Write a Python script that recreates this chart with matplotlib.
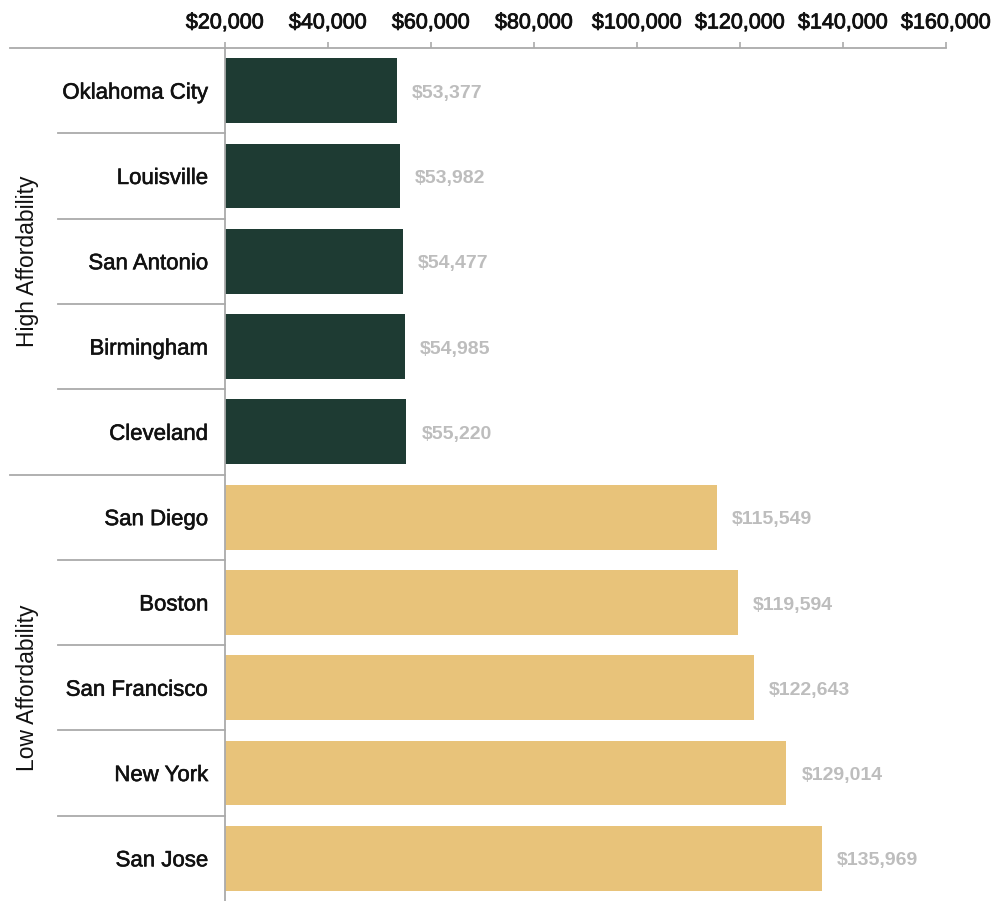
import matplotlib
matplotlib.use("Agg")
import matplotlib.pyplot as plt
import matplotlib.patheffects as pe
from matplotlib.transforms import blended_transform_factory

cities = ["Oklahoma City", "Louisville", "San Antonio", "Birmingham", "Cleveland",
          "San Diego", "Boston", "San Francisco", "New York", "San Jose"]
values = [53377, 53982, 54477, 54985, 55220, 115549, 119594, 122643, 129014, 135969]
groups = ["High Affordability", "Low Affordability"]
group_sizes = [5, 5]
group_colors = ["#1e3b33", "#e8c37a"]
xticks = [20000, 40000, 60000, 80000, 100000, 120000, 140000, 160000]

plt.rcParams['font.family'] = ['Liberation Sans', 'DejaVu Sans']

fig = plt.figure(figsize=(9.95, 9.01), dpi=100)
ax = fig.add_axes([225/995, 0, 721/995, 1 - 48/901])

colors = []
for c, n in zip(group_colors, group_sizes):
    colors += [c] * n

ypos = list(range(len(cities)))
ax.barh(ypos, [v - 20000 for v in values], left=20000, height=0.76, color=colors)
ax.set_xlim(20000, 160000)
ax.set_ylim(len(cities) - 0.5, -0.5)

ax.xaxis.tick_top()
ax.set_xticks(xticks)
ax.set_xticklabels(["${:,}".format(t) for t in xticks], fontsize=15.5, color="#111111")
for lab in ax.get_xticklabels():
    lab.set_path_effects([pe.withStroke(linewidth=0.6, foreground="#111111")])
ax.tick_params(axis='x', length=4.5, width=1.2, color="#aaaaaa", pad=6)
ax.set_yticks(ypos)
ax.set_yticklabels(cities, fontsize=16, color="#111111")
for lab in ax.get_yticklabels():
    lab.set_path_effects([pe.withStroke(linewidth=0.4, foreground="#111111")])
ax.tick_params(axis='y', length=0, pad=12)

for s in ["right", "bottom"]:
    ax.spines[s].set_visible(False)
for s in ["top", "left"]:
    ax.spines[s].set_color("#aaaaaa")
    ax.spines[s].set_linewidth(1.3)

for y, v in zip(ypos, values):
    ax.text(v + 2900, y + 0.03, "${:,}".format(v), va="center", ha="left",
            fontsize=14, fontweight="bold", color="#bdbdbd",
            family=['Liberation Sans Narrow', 'Liberation Sans', 'DejaVu Sans'])

tr = blended_transform_factory(ax.transAxes, ax.transData)
start = 0
for gi, (g, n) in enumerate(zip(groups, group_sizes)):
    ax.plot([-215/721, 0], [start - 0.5, start - 0.5], transform=tr, clip_on=False,
            color="#aaaaaa", lw=1.3)
    for k in range(1, n):
        yy = start + k - 0.5
        ax.plot([-167/721, 0], [yy, yy], transform=tr, clip_on=False,
                color="#aaaaaa", lw=1.3)
    ax.text(-197/721, start + (n - 1) / 2, g, transform=tr, rotation=90,
            va="center", ha="center", fontsize=16.5, color="#111111")
    start += n

fig.savefig("out.png", dpi=100)
